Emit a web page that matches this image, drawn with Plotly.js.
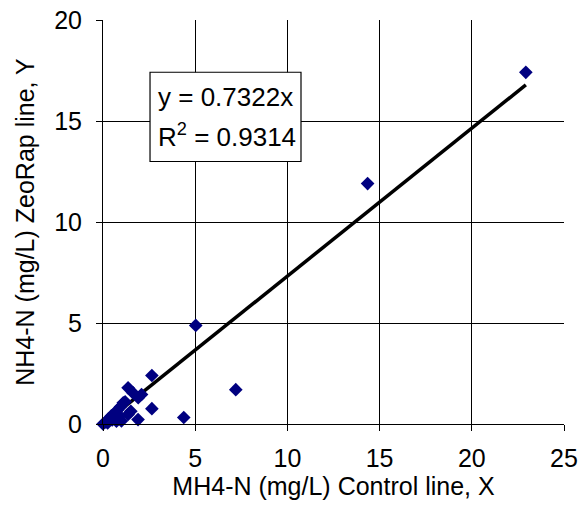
<!DOCTYPE html>
<html>
<head>
<meta charset="utf-8">
<script src="https://cdn.plot.ly/plotly-3.0.1.min.js"></script>
<style>html,body{margin:0;padding:0;background:#fff;}#chart{width:587px;height:510px;}</style>
</head>
<body>
<div id="chart"></div>
<script>
// Control line (X) vs ZeoRap line (Y), NH4-N mg/L
var controlX = [22.93, 14.35, 5.03, 7.2, 4.38, 2.65, 2.65, 1.9, 2.09, 1.36, 1.63, 1.51, 1.1, 0.73, 1.91, 1.36, 0.0, 0.15, 0.3, 0.45, 0.6, 0.8, 0.95, 1.2, 0.5, 0.9, 0.25, 1.0];
var zeorapY  = [17.41, 11.9, 4.88, 1.7, 0.32, 0.76, 2.4, 0.22, 1.46, 1.79, 1.54, 0.63, 1.05, 0.14, 1.3, 0.47, 0.0, 0.1, 0.25, 0.4, 0.5, 0.7, 0.85, 1.1, 0.2, 0.4, 0.05, 0.15];
var slope = 0.7322;
var r2 = 0.9314;
var xTicks = [0, 5, 10, 15, 20, 25];
var yTicks = [0, 5, 10, 15, 20];

var xMin = Math.min.apply(null, controlX), xMax = Math.max.apply(null, controlX);
var trendX = [xMin, xMax];
var trendY = trendX.map(function(v){ return slope * v; });

var font = {family: 'Liberation Sans, Arial, sans-serif', size: 25, color: '#000'};
var eqFont = {family: 'Liberation Sans, Arial, sans-serif', size: 26, color: '#000'};

var data = [
  {x: trendX, y: trendY, mode: 'lines', line: {color: '#000', width: 3.5}, hoverinfo: 'skip', cliponaxis: false},
  {x: controlX, y: zeorapY, mode: 'markers', type: 'scatter', cliponaxis: false,
   marker: {symbol: 'diamond', size: 10.5, color: '#000080', line: {width: 0}}}
];

var layout = {
  width: 587, height: 510,
  margin: {l: 103, r: 23, t: 20, b: 86},
  paper_bgcolor: '#fff', plot_bgcolor: '#fff',
  showlegend: false,
  font: font,
  xaxis: {
    range: [0, 25], tickvals: xTicks, ticktext: xTicks.map(String),
    ticks: 'outside', ticklen: 6, tickcolor: '#000', tickwidth: 1,
    ticklabelstandoff: 6,
    showgrid: true, gridcolor: '#000', gridwidth: 1,
    showline: true, linecolor: '#000', linewidth: 1, mirror: false,
    zeroline: false, tickfont: font,
    title: {text: 'MH4-N (mg/L) Control line, X', font: font, standoff: 6}
  },
  yaxis: {
    range: [0, 20], tickvals: yTicks, ticktext: yTicks.map(String),
    ticks: 'outside', ticklen: 6, tickcolor: '#000', tickwidth: 1,
    ticklabelstandoff: 9,
    showgrid: true, gridcolor: '#000', gridwidth: 1,
    showline: true, linecolor: '#000', linewidth: 1,
    zeroline: false, tickfont: font,
    title: {text: 'NH4-N (mg/L) ZeoRap line, Y', font: font, standoff: 12}
  },
  shapes: [{
    type: 'rect', xref: 'paper', yref: 'paper',
    x0: 0.102, x1: 0.4295, y0: 0.6497, y1: 0.8707,
    fillcolor: '#fff', line: {color: '#000', width: 1.2}, layer: 'above'
  }],
  annotations: [{
    xref: 'paper', yref: 'paper', x: 0.114, y: 0.809, xanchor: 'left', yanchor: 'middle',
    text: 'y = ' + slope.toFixed(4) + 'x', showarrow: false, font: eqFont
  }, {
    xref: 'paper', yref: 'paper', x: 0.114, y: 0.715, xanchor: 'left', yanchor: 'middle',
    text: 'R<sup>2</sup> = ' + r2.toFixed(4), showarrow: false, font: eqFont
  }]
};

Plotly.newPlot('chart', data, layout, {displayModeBar: false, staticPlot: true});
</script>
</body>
</html>
